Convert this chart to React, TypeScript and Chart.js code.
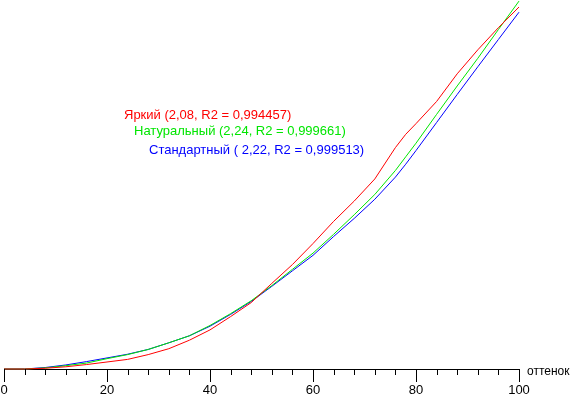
import React, { useEffect, useRef } from "react";
import { Chart, registerables } from "chart.js";

Chart.register(...registerables);

// shade steps (x values, 0..100)
const shades = [0, 4, 8, 12, 16, 20, 24, 28, 32, 36, 40, 44, 48, 52, 56, 60, 64, 68, 72, 76, 78, 80, 84, 88, 92, 96, 100];

// measured brightness curves (0..100 scale)
const brightValues = [0, 0, 0.2, 0.6, 1.2, 1.9, 2.6, 3.9, 5.5, 7.8, 10.6, 14.2, 18.0, 23.2, 28.3, 34.0, 40.0, 45.5, 51.5, 60.0, 63.6, 66.5, 72.5, 80.0, 86.5, 92.5, 98.1];
const naturalValues = [0, 0, 0.3, 0.9, 1.6, 2.8, 3.9, 5.3, 7.1, 9.0, 11.8, 15.0, 18.5, 22.6, 27.0, 31.4, 36.5, 41.8, 47.3, 53.8, 57.5, 61.2, 69.0, 76.7, 84.2, 92.0, 99.7];
const standardValues = [0, 0, 0.4, 1.1, 2.0, 3.0, 4.0, 5.3, 7.1, 9.0, 11.6, 14.8, 18.3, 22.4, 26.6, 30.8, 35.9, 40.8, 46.0, 52.0, 55.5, 59.2, 66.8, 74.4, 81.9, 89.3, 96.7];

const seriesLabels = [
  "Яркий (2,08, R2 = 0,994457)",
  "Натуральный (2,24, R2 = 0,999661)",
  "Стандартный ( 2,22, R2 = 0,999513)",
];
const seriesColors = ["#ff0000", "#00e600", "#0000ff"];
const axisTitle = "оттенок";
const FONT = '13px "Liberation Sans", Arial, sans-serif';
const TITLE_FONT = '12px "Liberation Sans", Arial, sans-serif';

const overlayPlugin = {
  id: "overlay",
  afterDraw(chart: any) {
    const ctx = chart.ctx;
    const xs = chart.scales.x;
    const area = chart.chartArea;
    ctx.save();
    // tick marks
    ctx.strokeStyle = "#000";
    ctx.lineWidth = 1;
    ctx.beginPath();
    xs.ticks.forEach((t: any) => {
      const px = Math.round(xs.getPixelForValue(t.value)) + 0.5;
      const len = t.value % 20 === 0 ? 13 : 6;
      ctx.moveTo(px, area.bottom);
      ctx.lineTo(px, area.bottom + len);
    });
    ctx.stroke();
    // axis title
    ctx.font = TITLE_FONT;
    ctx.fillStyle = "#000";
    ctx.textBaseline = "alphabetic";
    ctx.textAlign = "left";
    ctx.fillText(axisTitle, area.right + 8, area.bottom + 6);
    // legend texts
    ctx.font = FONT;
    const pos = [
      [124, 119],
      [134, 135],
      [149, 154],
    ];
    seriesLabels.forEach((s, i) => {
      ctx.fillStyle = seriesColors[i];
      ctx.fillText(s, pos[i][0], area.top + pos[i][1]);
    });
    ctx.restore();
  },
};

export default function App() {
  const ref = useRef<HTMLCanvasElement>(null);
  useEffect(() => {
    const chart = new Chart(ref.current!, {
      type: "line",
      data: {
        datasets: [
          { label: seriesLabels[0], data: shades.map((x, i) => ({ x, y: brightValues[i] })) },
          { label: seriesLabels[1], data: shades.map((x, i) => ({ x, y: naturalValues[i] })) },
          { label: seriesLabels[2], data: shades.map((x, i) => ({ x, y: standardValues[i] })) },
        ].map((d, i) => ({
          ...d,
          borderColor: seriesColors[i],
          backgroundColor: seriesColors[i],
          borderWidth: 1,
          pointRadius: 0,
          tension: 0,
          fill: false,
          clip: false as any,
        })),
      },
      options: {
        animation: false,
        responsive: false,
        devicePixelRatio: 1,
        layout: { padding: { left: 4, right: 51, top: 0, bottom: 0 } },
        plugins: { legend: { display: false }, tooltip: { enabled: false } },
        scales: {
          x: {
            type: "linear",
            min: 0,
            max: 100,
            afterFit: (s: any) => {
              s.height = 27;
              s.paddingLeft = 0;
              s.paddingRight = 0;
            },
            ticks: {
              stepSize: 4,
              autoSkip: false,
              maxRotation: 0,
              padding: 14,
              color: "#000",
              font: { family: '"Liberation Sans", Arial, sans-serif', size: 13 },
              callback: (v: any) => (Number(v) % 20 === 0 ? String(v) : ""),
            },
            grid: { display: false, drawTicks: false },
            border: { display: true, color: "#000", width: 1 },
          },
          y: { type: "linear", min: 0, max: 100, display: false },
        },
      },
      plugins: [overlayPlugin],
    });
    return () => chart.destroy();
  }, []);
  return (
    <div style={{ position: "fixed", left: 0, top: 0, width: 570, height: 396, background: "#fff" }}>
      <canvas ref={ref} width={570} height={396} />
    </div>
  );
}
